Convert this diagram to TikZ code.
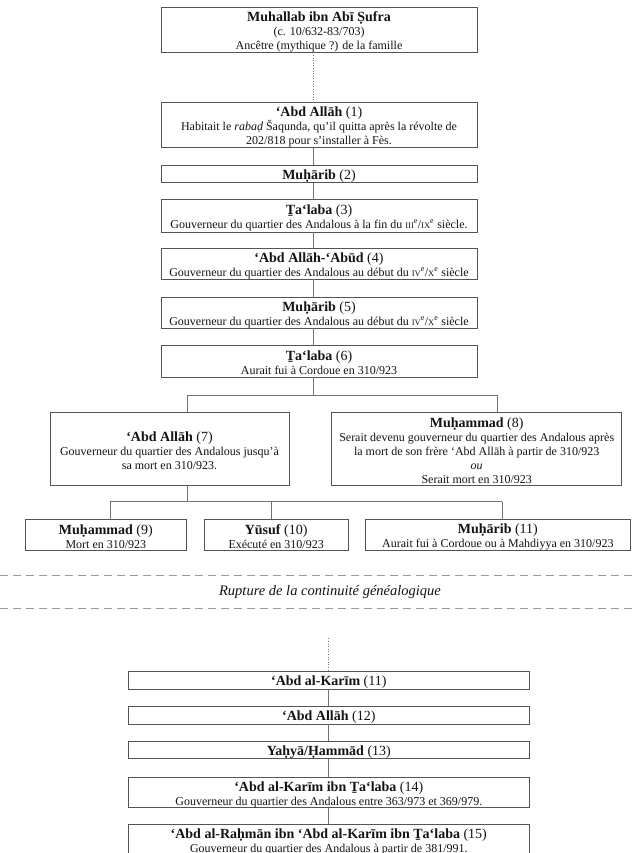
\documentclass[tikz,border=0pt]{standalone}
\usepackage{fontspec}
\setmainfont{Liberation Serif}
\definecolor{boxc}{gray}{0.33}
\definecolor{linec}{gray}{0.45}
\definecolor{txtc}{gray}{0.08}
\newcommand\tl[2]{{\fontsize{14}{16}\selectfont\rule{0pt}{14pt}\textbf{#1} (#2)}}
\newcommand\rn[1]{{\fontsize{8.5}{10}\selectfont #1}\textsuperscript{e}}
\tikzset{
  gbox/.style={draw=boxc, line width=0.85pt, inner sep=0pt, align=center, text=txtc,
    font=\fontsize{12}{14}\selectfont},
  wide/.style={gbox, minimum width=316pt},
  conn/.style={draw=linec, line width=0.8pt},
  dotconn/.style={draw=linec, line width=0.8pt, dash pattern=on 1pt off 1.6pt},
  rupt/.style={draw=black!40, line width=1pt, dash pattern=on 8pt off 5pt}
}
\begin{document}
\begin{tikzpicture}[x=1pt,y=-1pt]
\useasboundingbox (0,0) rectangle (635,853);
\clip (0,0) rectangle (635,853);
\fill[white] (0,0) rectangle (635,853);
% upper chain
\node[wide, minimum height=45pt] (top) at (319,29.5)
  {{\fontsize{14}{16}\selectfont\rule{0pt}{14.5pt}\textbf{Muhallab ibn Abī Ṣufra}}\\(c. 10/632-83/703)\\Ancêtre (mythique ?) de la famille};
\node[wide, minimum height=44pt] (b1) at (319,125)
  {\tl{‘Abd Allāh}{1}\\Habitait le \textit{rabaḍ} Šaqunda, qu’il quitta après la révolte de\\202/818 pour s’installer à Fès.};
\node[wide, minimum height=16pt] (b2) at (319,174) {\tl{Muḥārib}{2}};
\node[wide, minimum height=33pt] (b3) at (319,215.5)
  {\tl{Ṯa‘laba}{3}\\Gouverneur du quartier des Andalous à la fin du \rn{III}/\rn{IX} siècle.};
\node[wide, minimum height=31pt] (b4) at (319,263.5)
  {\tl{‘Abd Allāh-‘Abūd}{4}\\Gouverneur du quartier des Andalous au début du \rn{IV}/\rn{X} siècle};
\node[wide, minimum height=31pt] (b5) at (319,312.5)
  {\tl{Muḥārib}{5}\\Gouverneur du quartier des Andalous au début du \rn{IV}/\rn{X} siècle};
\node[wide, minimum height=32pt] (b6) at (319,361)
  {\tl{Ṯa‘laba}{6}\\Aurait fui à Cordoue en 310/923};
% second generation
\node[gbox, minimum width=239pt, minimum height=72.3pt] (b7) at (169.5,448.85)
  {\tl{‘Abd Allāh}{7}\\Gouverneur du quartier des Andalous jusqu’à\\sa mort en 310/923.};
\node[gbox, minimum width=290pt, minimum height=72.3pt] (b8) at (476.7,448.85)
  {\tl{Muḥammad}{8}\\Serait devenu gouverneur du quartier des Andalous après\\la mort de son frère ‘Abd Allāh à partir de 310/923\\\textit{ou}\\Serait mort en 310/923};
% third generation
\node[gbox, minimum width=161.7pt, minimum height=31.4pt] (b9) at (105.85,535)
  {\tl{Muḥammad}{9}\\Mort en 310/923};
\node[gbox, minimum width=144.3pt, minimum height=31.4pt] (b10) at (276.15,535)
  {\tl{Yūsuf}{10}\\Exécuté en 310/923};
\node[gbox, minimum width=264.3pt, minimum height=31.4pt] (b11) at (497.85,535)
  {\tl{Muḥārib}{11}\\Aurait fui à Cordoue ou à Mahdiyya en 310/923};
% rupture
\coordinate (rl1) at (0,575);
\coordinate (rr1) at (635,575);
\coordinate (rl2) at (0,608.5);
\coordinate (rr2) at (635,608.5);
\draw[rupt] (rl1) -- (rr1);
\draw[rupt] (rl2) -- (rr2);
\node[text=txtc, font=\fontsize{14.5}{16}\selectfont\itshape, inner sep=0pt] (rup) at (330,592)
  {Rupture de la continuité généalogique};
% lower chain
\node[gbox, minimum width=401pt, minimum height=17.3pt] (l11) at (328.8,680.35) {\tl{‘Abd al-Karīm}{11}};
\node[gbox, minimum width=401pt, minimum height=17.3pt] (l12) at (328.8,715.35) {\tl{‘Abd Allāh}{12}};
\node[gbox, minimum width=401pt, minimum height=16.3pt] (l13) at (328.8,749.85) {\tl{Yaḥyā/Ḥammād}{13}};
\node[gbox, minimum width=401pt, minimum height=30.4pt] (l14) at (328.8,792.5)
  {\tl{‘Abd al-Karīm ibn Ṯa‘laba}{14}\\Gouverneur du quartier des Andalous entre 363/973 et 369/979.};
\node[gbox, minimum width=401pt, minimum height=30.4pt] (l15) at (328.8,839.5)
  {\tl{‘Abd al-Raḥmān ibn ‘Abd al-Karīm ibn Ṯa‘laba}{15}\\Gouverneur du quartier des Andalous à partir de 381/991.};
% connectors upper
\coordinate (j1) at (313,395);
\draw[dotconn] (top.south -| j1) -- (b1.north -| j1);
\draw[conn] (b1.south -| j1) -- (b2.north -| j1);
\draw[conn] (b2.south -| j1) -- (b3.north -| j1);
\draw[conn] (b3.south -| j1) -- (b4.north -| j1);
\draw[conn] (b4.south -| j1) -- (b5.north -| j1);
\draw[conn] (b5.south -| j1) -- (b6.north -| j1);
\draw[conn] (b6.south -| j1) -- (j1);
\coordinate (k7) at (187,395);
\coordinate (k8) at (497.7,395);
\draw[conn] (k7) -- (k8);
\draw[conn] (k7) -- (k7 |- b7.north);
\draw[conn] (k8) -- (k8 |- b8.north);
\coordinate (m7) at (187,501.7);
\coordinate (m9) at (110,501.7);
\coordinate (m10) at (271.7,501.7);
\coordinate (m11) at (502.3,501.7);
\draw[conn] (b7.south -| m7) -- (m7);
\draw[conn] (m9) -- (m11);
\draw[conn] (m9) -- (m9 |- b9.north);
\draw[conn] (m10) -- (m10 |- b10.north);
\draw[conn] (m11) -- (m11 |- b11.north);
% connectors lower
\coordinate (d0) at (328.3,638.3);
\draw[dotconn] (d0) -- (d0 |- l11.north);
\draw[conn] (l11.south -| d0) -- (l12.north -| d0);
\draw[conn] (l12.south -| d0) -- (l13.north -| d0);
\draw[conn] (l13.south -| d0) -- (l14.north -| d0);
\draw[conn] (l14.south -| d0) -- (l15.north -| d0);
\end{tikzpicture}
\end{document}
